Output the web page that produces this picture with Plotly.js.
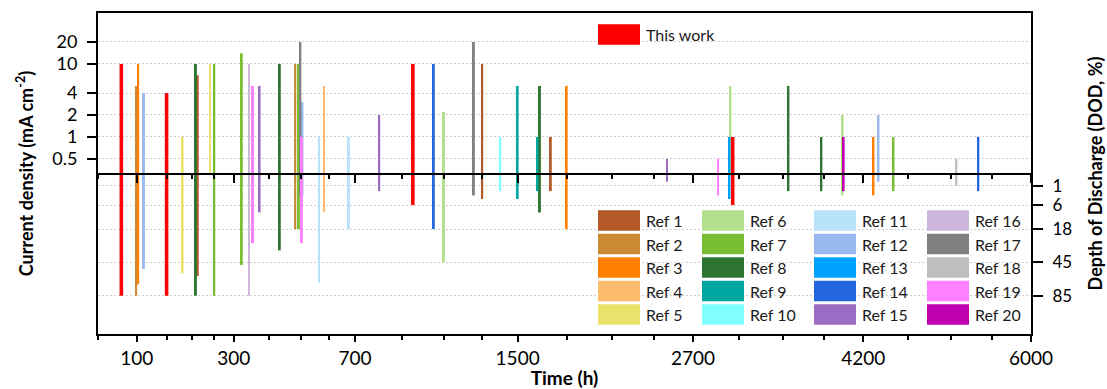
<!DOCTYPE html>
<html>
<head>
<meta charset="utf-8">
<script src="https://cdn.plot.ly/plotly-3.0.1.min.js"></script>
<style>
html,body{margin:0;padding:0;background:#fff;}
#chart{width:1107px;height:389px;}
</style>
</head>
<body>
<div id="chart"></div>
<script>
// ---------------- DATA ----------------
const refNames = ['Ref 1','Ref 2','Ref 3','Ref 4','Ref 5','Ref 6','Ref 7','Ref 8','Ref 9','Ref 10',
                  'Ref 11','Ref 12','Ref 13','Ref 14','Ref 15','Ref 16','Ref 17','Ref 18','Ref 19','Ref 20'];
const refColors = ['#B3592A','#CC8B32','#FF8000','#FDBB6E','#EAE26A','#B3E08C','#78BE32','#2E7534','#00A6A0','#80FFFF',
                   '#B8E2FA','#99B8EE','#00A2FF','#2466DD','#9A6CC4','#CDB5DC','#808080','#BFBFBF','#FF80FF','#C000B0'];

// one entry per reported cycling test (reference number, time in h, current density in mA cm-2, DOD in %)
const barRef  = [2, 3, 12, 5, 8, 1, 5, 7, 7, 16, 19, 15, 8, 2, 7, 17, 15, 19, 12, 11, 4, 11, 15, 14, 6, 17, 1, 10, 9, 9, 8, 1, 3, 15, 19, 13, 6, 8, 8, 6, 20, 3, 12, 7, 18, 14];
const barTime = [99, 102, 111, 181, 209, 213, 241, 251, 321, 341, 352, 371, 432, 482, 494, 499, 503, 504, 506, 564, 582, 676, 800, 1050, 1100, 1255, 1300, 1400, 1500, 1618, 1633, 1700, 1800, 2500, 2900, 2993, 3001, 3500, 3800, 4000, 4010, 4300, 4350, 4500, 5160, 5400];
const barCD   = [5, 10, 4, 1, 10, 7, 10, 10, 14, 10, 5, 5, 10, 10, 10, 20, 1, 1, 3, 1, 5, 1, 2, 10, 2.2, 20, 10, 1, 5, 1, 5, 1, 5, 0.5, 0.5, 1, 5, 5, 1, 2, 1, 1, 2, 1, 0.5, 1];
const barDOD  = [85, 70, 52, 57, 85, 60, null, 85, 48, 85, 28, 9, 34, 18, 18, 3, 7, 28, 3, 68, 9, 18, 2, 18, 45, 3, 4, 2, 4, 2, 9, 2, 18, 0.5, 3, 4, null, 2, 2, 3, 2, 3, 0.5, 2, 1, 2];

const workName = 'This work';
const workTime = [78, 150, 950, 3020];
const workCD   = [10, 4, 10, 1];
const workDOD  = [85, 85, 6, 6];

const cdTicks = [0.5, 1, 2, 4, 10, 20];
const dodTicks = [1, 6, 18, 45, 85];
const timeTicks = [100, 300, 700, 1500, 2700, 4200, 6000];
const timeMinorTicks = [50, 150, 200, 250, 400, 500, 600, 900, 1100, 1300, 1800, 2100, 2400, 3075, 3450, 3825, 4650, 5100, 5550];
const timeRange = [50, 6000];

// ---------------- SCALES ----------------
// time: square-root axis; current density: log axis above the baseline; DOD: square-root axis below it
const tx = t => Math.sqrt(t);
const cdY = v => 73 * Math.log10(v / 0.308);
const dodY = d => -(13.4 * Math.sqrt(d) - 2.1);

const xRange = timeRange.map(tx);
const yRange = [-159.7, 161.3];

// ---------------- TRACES ----------------
const traces = [];
function addSeries(name, color, times, cds, dods, w) {
  traces.push({
    type: 'bar', name: name, xaxis: 'x', yaxis: 'y',
    x: times.map(tx), y: cds.map(cdY), width: w,
    marker: {color: color, line: {width: 0}},
    customdata: times.map((t, i) => [t, cds[i]]),
    hovertemplate: name + '<br>%{customdata[0]} h<br>%{customdata[1]} mA cm<sup>-2</sup><extra></extra>',
    showlegend: false
  });
  const idx = dods.map((d, i) => i).filter(i => dods[i] !== null);
  traces.push({
    type: 'bar', name: name, xaxis: 'x2', yaxis: 'y2',
    x: idx.map(i => tx(times[i])), y: idx.map(i => dodY(dods[i])), width: w,
    marker: {color: color, line: {width: 0}},
    customdata: idx.map(i => [times[i], dods[i]]),
    hovertemplate: name + '<br>%{customdata[0]} h<br>DOD %{customdata[1]} %<extra></extra>',
    showlegend: false
  });
}
refNames.forEach((nm, r) => {
  const idx = barRef.map((v, i) => i).filter(i => barRef[i] === r + 1);
  if (!idx.length) return;
  addSeries(nm, refColors[r], idx.map(i => barTime[i]), idx.map(i => barCD[i]), idx.map(i => barDOD[i]), 0.15);
});
addSeries(workName, '#FF0000', workTime, workCD, workDOD, 0.27);

// ---------------- LEGEND (drawn swatches + text) ----------------
const L = 98, R = 1031, T = 13, B = 334;
const px = v => (v - L) / (R - L);
const py = v => (B - v) / (B - T);
const shapes = [], annotations = [];
function legendItem(label, color, x0, yc) {
  shapes.push({type: 'rect', xref: 'paper', yref: 'paper', x0: px(x0), x1: px(x0 + 42),
               y0: py(yc + 10.2), y1: py(yc - 10.2), fillcolor: color, line: {width: 0}, layer: 'above'});
  annotations.push({xref: 'paper', yref: 'paper', x: px(x0 + 46), y: py(yc), text: label, showarrow: false,
                    xanchor: 'left', yanchor: 'middle', font: {size: 16, color: '#1a1a1a'}});
}
const colX = [598, 702, 814, 927];
const rowY = [220.5, 244, 267.5, 291, 314.5];
refNames.forEach((nm, r) => legendItem(nm, refColors[r], colX[Math.floor(r / 5)], rowY[r % 5]));
legendItem(workName, '#FF0000', 598, 34.5);

// ---------------- LAYOUT ----------------
const gridDash = '1.5px,2.5px';
const axisCommon = {showgrid: false, zeroline: false, linecolor: '#000', linewidth: 2, tickcolor: '#000', tickwidth: 1.5};
const layout = {
  width: 1107, height: 389,
  margin: {l: L, r: 1107 - R, t: T, b: 389 - B, pad: 0},
  paper_bgcolor: '#fff', plot_bgcolor: '#fff',
  font: {family: 'Lato, "Open Sans", sans-serif', size: 19, color: '#000'},
  barmode: 'overlay', showlegend: false,
  xaxis: Object.assign({}, axisCommon, {
    range: xRange, tickmode: 'array', tickvals: timeTicks.map(tx), ticktext: timeTicks.map(String),
    ticks: 'outside', ticklen: 6, showline: true, mirror: true,
    minor: {tickmode: 'array', tickvals: timeMinorTicks.map(tx), ticks: 'outside', ticklen: 4, tickwidth: 1.5, tickcolor: '#000', showgrid: false},
    tickfont: {size: 19},
    title: {text: '<b>Time (h)</b>', font: {size: 19}, standoff: 8}
  }),
  xaxis2: Object.assign({}, axisCommon, {
    overlaying: 'x', anchor: 'free', position: (B - 174.3) / (B - T), side: 'bottom',
    range: xRange, tickmode: 'array', tickvals: timeTicks.map(tx), ticks: 'outside', ticklen: 8,
    showticklabels: false, showline: true,
    minor: {tickmode: 'array', tickvals: timeMinorTicks.map(tx), ticks: 'outside', ticklen: 4, tickwidth: 1.5, tickcolor: '#000', showgrid: false}
  }),
  yaxis: Object.assign({}, axisCommon, {
    range: yRange, tickmode: 'array', tickvals: cdTicks.map(cdY), ticktext: cdTicks.map(String),
    ticks: 'outside', ticklen: 9, showline: true, mirror: true, ticklabelstandoff: 6,
    tickfont: {size: 18},
    showgrid: true, gridcolor: '#cfcfcf', griddash: gridDash, gridwidth: 1,
    title: {text: '<b>Current density (mA cm<sup>-2</sup>)</b>', font: {size: 18}, standoff: 14}
  }),
  yaxis2: Object.assign({}, axisCommon, {
    overlaying: 'y', anchor: 'x', side: 'right',
    range: yRange, tickmode: 'array', tickvals: dodTicks.map(dodY), ticktext: dodTicks.map(String),
    ticks: 'outside', ticklen: 10, showline: true, ticklabelstandoff: 6,
    tickfont: {size: 17},
    showgrid: true, gridcolor: '#cfcfcf', griddash: gridDash, gridwidth: 1,
    title: {text: '<b>Depth of Discharge (DOD, %)</b>', font: {size: 18}, standoff: 18}
  }),
  shapes: shapes,
  annotations: annotations
};

Plotly.newPlot('chart', traces, layout, {displayModeBar: false, staticPlot: false});
</script>
</body>
</html>
